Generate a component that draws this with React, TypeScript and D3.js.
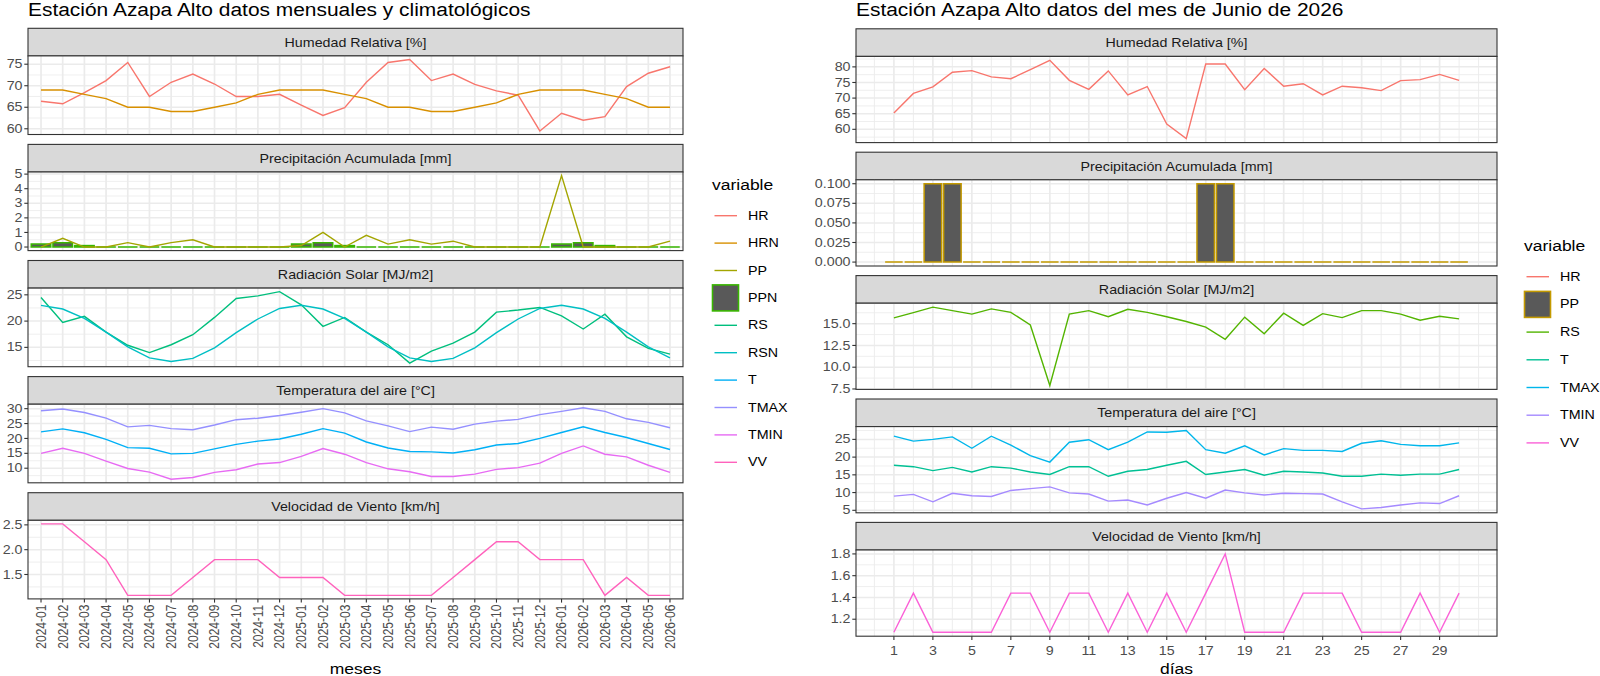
import * as d3 from 'd3';
import React from 'react';

// ---------- datos mensuales (grafico izquierdo) ----------
const months = [
  '2024-01', '2024-02', '2024-03', '2024-04', '2024-05', '2024-06', '2024-07', '2024-08', '2024-09', '2024-10',
  '2024-11', '2024-12', '2025-01', '2025-02', '2025-03', '2025-04', '2025-05', '2025-06', '2025-07', '2025-08',
  '2025-09', '2025-10', '2025-11', '2025-12', '2026-01', '2026-02', '2026-03', '2026-04', '2026-05', '2026-06',
];
const hrMes = [66.4, 65.8, 68.4, 71.2, 75.4, 67.5, 70.8, 72.7, 70.4, 67.5, 67.5, 68.0, 65.5, 63.1, 64.9,
  70.8, 75.4, 76.1, 71.2, 72.7, 70.3, 68.8, 67.8, 59.5, 63.6, 62.0, 62.8, 69.8, 72.9, 74.4];
const hrnMes = [69, 69, 68, 67, 65, 65, 64, 64, 65, 66, 68, 69, 69, 69, 68,
  67, 65, 65, 64, 64, 65, 66, 68, 69, 69, 69, 68, 67, 65, 65];
const ppMes = [0, 0.6, 0, 0, 0.3, 0, 0.3, 0.5, 0, 0, 0, 0, 0.1, 1.0, 0,
  0.8, 0.2, 0.5, 0.2, 0.4, 0, 0, 0, 0, 4.9, 0, 0, 0, 0, 0.4];
const ppnMes = [0.2, 0.3, 0.1, 0, 0, 0, 0, 0, 0, 0, 0, 0, 0.2, 0.3, 0.1,
  0, 0, 0, 0, 0, 0, 0, 0, 0, 0.2, 0.3, 0.1, 0, 0, 0];
const rsMes = [24.5, 19.75, 20.9, 17.9, 15.4, 14.0, 15.5, 17.4, 20.7, 24.3, 24.8, 25.6, 23.1, 19.0, 20.7,
  17.9, 15.5, 12.0, 14.3, 15.8, 17.9, 21.7, 22.1, 22.6, 21.0, 18.5, 21.3, 17.0, 14.8, 13.7];
const rsnMes = [23.0, 22.3, 20.5, 17.9, 15.1, 13.0, 12.3, 12.9, 14.9, 17.8, 20.4, 22.4, 23.0, 22.3, 20.5,
  17.9, 15.1, 13.0, 12.3, 12.9, 14.9, 17.8, 20.4, 22.4, 23.0, 22.3, 20.5, 17.9, 15.1, 13.0];
const tMes = [22.2, 23.2, 21.9, 19.7, 16.9, 16.7, 14.8, 15.0, 16.5, 18.0, 19.1, 19.8, 21.4, 23.3, 21.8,
  18.8, 16.8, 15.6, 15.5, 15.1, 16.2, 17.8, 18.3, 20.0, 22.0, 23.9, 22.0, 20.3, 18.3, 16.3];
const tmaxMes = [29.3, 29.9, 28.7, 26.8, 23.9, 24.4, 23.3, 22.9, 24.5, 26.3, 26.8, 27.7, 28.8, 30.0, 28.6,
  25.9, 24.2, 22.3, 23.8, 23.1, 24.8, 25.8, 26.4, 28.0, 29.1, 30.3, 29.1, 26.6, 25.4, 23.6];
const tminMes = [15.0, 16.7, 15.0, 12.4, 9.9, 8.7, 6.3, 6.9, 8.6, 9.5, 11.4, 11.9, 14.0, 16.6, 14.7,
  11.9, 9.8, 8.8, 7.2, 7.2, 8.0, 9.6, 10.2, 11.7, 15.0, 17.5, 14.7, 13.8, 11.0, 8.6];
const vvMes = [2.52, 2.52, 2.16, 1.8, 1.08, 1.08, 1.08, 1.44, 1.8, 1.8, 1.8, 1.44, 1.44, 1.44, 1.08,
  1.08, 1.08, 1.08, 1.08, 1.44, 1.8, 2.16, 2.16, 1.8, 1.8, 1.8, 1.08, 1.44, 1.08, 1.08];

// ---------- datos diarios junio 2026 (grafico derecho) ----------
const dias = [1, 2, 3, 4, 5, 6, 7, 8, 9, 10, 11, 12, 13, 14, 15, 16, 17, 18, 19, 20, 21, 22, 23, 24, 25, 26, 27, 28, 29, 30];
const hrDia = [65.2, 71.5, 73.6, 78.3, 78.8, 76.8, 76.2, 79.1, 82.1, 75.7, 72.8, 78.7, 71.0, 73.7, 61.7,
  57.0, 80.9, 80.9, 72.7, 79.5, 73.8, 74.6, 71.0, 73.8, 73.3, 72.4, 75.6, 75.9, 77.6, 75.7];
const ppDia = [0, 0, 0.1, 0.1, 0, 0, 0, 0, 0, 0, 0, 0, 0, 0, 0,
  0, 0.1, 0.1, 0, 0, 0, 0, 0, 0, 0, 0, 0, 0, 0, 0];
const rsDia = [15.67, 16.27, 16.9, 16.5, 16.1, 16.7, 16.3, 14.85, 7.9, 16.1, 16.5, 15.8, 16.65, 16.3, 15.8,
  15.25, 14.6, 13.2, 15.75, 13.85, 16.2, 14.8, 16.15, 15.7, 16.5, 16.5, 16.1, 15.4, 15.85, 15.55];
const tDia = [17.7, 17.3, 16.2, 17.1, 15.8, 17.3, 16.9, 15.8, 15.1, 17.3, 17.3, 14.6, 16.0, 16.5, 17.7,
  18.8, 15.1, 15.8, 16.5, 14.9, 16.0, 15.8, 15.5, 14.6, 14.6, 15.2, 14.9, 15.2, 15.2, 16.5];
const tmaxDia = [25.9, 24.5, 25.0, 25.7, 22.5, 25.9, 23.4, 20.4, 18.6, 24.2, 24.9, 22.1, 24.2, 27.1, 27.0,
  27.5, 22.1, 21.1, 23.2, 20.6, 22.4, 21.9, 21.9, 21.6, 23.9, 24.6, 23.6, 23.2, 23.2, 24.0];
const tminDia = [9.0, 9.5, 7.4, 9.8, 9.1, 8.9, 10.6, 11.1, 11.6, 9.9, 9.6, 7.6, 7.9, 6.5, 8.4,
  10.0, 8.4, 10.7, 9.9, 9.3, 9.8, 9.7, 9.6, 7.4, 5.4, 5.8, 6.5, 7.1, 6.9, 9.1];
const vvDia = [1.08, 1.44, 1.08, 1.08, 1.08, 1.08, 1.44, 1.44, 1.08, 1.44, 1.44, 1.08, 1.44, 1.08, 1.44,
  1.08, 1.44, 1.8, 1.08, 1.08, 1.08, 1.44, 1.44, 1.44, 1.08, 1.08, 1.08, 1.44, 1.08, 1.44];

// ---------- ticks ----------
const hrTicksL = [60, 65, 70, 75];
const ppTicksL = [0, 1, 2, 3, 4, 5];
const rsTicksL = [15, 20, 25];
const tTicksL = [10, 15, 20, 25, 30];
const vvTicksL = [1.5, 2.0, 2.5];
const vvLabelsL = ['1.5', '2.0', '2.5'];
const hrTicksR = [60, 65, 70, 75, 80];
const ppTicksR = [0, 0.025, 0.05, 0.075, 0.1];
const ppLabelsR = ['0.000', '0.025', '0.050', '0.075', '0.100'];
const rsTicksR = [7.5, 10, 12.5, 15];
const rsLabelsR = ['7.5', '10.0', '12.5', '15.0'];
const tTicksR = [5, 10, 15, 20, 25];
const vvTicksR = [1.2, 1.4, 1.6, 1.8];
const vvLabelsR = ['1.2', '1.4', '1.6', '1.8'];
const diaTicks = [1, 3, 5, 7, 9, 11, 13, 15, 17, 19, 21, 23, 25, 27, 29];

const colL = {
  HR: '#F8766D', HRN: '#D89000', PP: '#A3A500', PPN: '#39B600', RS: '#00BF7D',
  RSN: '#00BFC4', T: '#00B0F6', TMAX: '#9590FF', TMIN: '#E76BF3', VV: '#FF62BC',
};
const colR = {
  HR: '#F8766D', PP: '#C49A00', RS: '#53B400', T: '#00C094', TMAX: '#00B6EB', TMIN: '#A58AFF', VV: '#FB61D7',
};

const SX = 1.19; // the reference text is a little wider than plain Arial
const FONT = '"Liberation Sans", Arial, Helvetica, sans-serif';

const Txt = ({ x, y, size, anchor = 'start', fill = '#1A1A1A', rot = 0, base = 'auto', children }: any) => (
  <text
    transform={`translate(${x},${y}) scale(${SX},1)` + (rot ? ` rotate(${rot})` : '')}
    fontSize={size}
    textAnchor={anchor}
    fill={fill}
    dominantBaseline={base}
  >
    {children}
  </text>
);

const expandDomain = (vals: number[]): [number, number] => {
  const lo = d3.min(vals) as number;
  const hi = d3.max(vals) as number;
  const pad = (hi - lo) * 0.05;
  return [lo - pad, hi + pad];
};

// ggplot-style minor breaks: midpoints plus one extra step each side
const minorBreaks = (major: number[], dom: number[]) => {
  const step = major[1] - major[0];
  const ext = [major[0] - step, ...major, major[major.length - 1] + step];
  const out: number[] = [ext[0], ext[ext.length - 1]];
  for (let i = 0; i < ext.length - 1; i++) out.push((ext[i] + ext[i + 1]) / 2);
  return out.filter((v) => v > dom[0] && v < dom[1] && !major.includes(v));
};

const STRIP_H = 27.6;

const Panel = ({ title, top, panelH, x0, x1, xPos, xMajor, xMinor, yTicks, yLabels, lines, bars, barW }: any) => {
  const pTop = top + STRIP_H;
  const pBot = pTop + panelH;
  const vals = lines.flatMap((s: any) => s.values).concat(bars ? [0, ...bars.values] : []);
  const y = d3.scaleLinear().domain(expandDomain(vals)).range([pBot, pTop]);
  const minor = minorBreaks(yTicks, y.domain());
  const line = d3.line<number>().x((_, i) => xPos(i)).y((v) => y(v));
  const labels = yLabels || yTicks.map((v: number) => String(v));

  return (
    <g>
      <rect x={x0} y={top} width={x1 - x0} height={STRIP_H} fill="#D9D9D9" stroke="#333333" strokeWidth={1.1} />
      <Txt x={(x0 + x1) / 2} y={top + STRIP_H / 2 + 0.5} size={12} anchor="middle" base="central">{title}</Txt>
      <rect x={x0} y={pTop} width={x1 - x0} height={panelH} fill="#FFFFFF" />
      {minor.map((v) => (
        <line key={'ym' + v} x1={x0} x2={x1} y1={y(v)} y2={y(v)} stroke="#EBEBEB" strokeWidth={0.8} />
      ))}
      {xMinor.map((px: number, i: number) => (
        <line key={'xm' + i} x1={px} x2={px} y1={pTop} y2={pBot} stroke="#EBEBEB" strokeWidth={0.9} />
      ))}
      {yTicks.map((v: number) => (
        <line key={'yM' + v} x1={x0} x2={x1} y1={y(v)} y2={y(v)} stroke="#EBEBEB" strokeWidth={1.5} />
      ))}
      {xMajor.map((px: number, i: number) => (
        <line key={'xM' + i} x1={px} x2={px} y1={pTop} y2={pBot} stroke="#EBEBEB" strokeWidth={1.7} />
      ))}
      {bars &&
        bars.values.map((v: number, i: number) => {
          const cx = xPos(i);
          const yb = y(0);
          const yt = y(v);
          return (
            <path
              key={'b' + i}
              d={`M${cx - barW / 2},${yb}V${yt}H${cx + barW / 2}V${yb}Z`}
              fill="#595959"
              stroke={bars.color}
              strokeWidth={1.5}
            />
          );
        })}
      {lines.map((s: any) => (
        <path key={s.name} d={line(s.values) || ''} fill="none" stroke={s.color} strokeWidth={1.4} />
      ))}
      <rect x={x0} y={pTop} width={x1 - x0} height={panelH} fill="none" stroke="#333333" strokeWidth={1.1} />
      {yTicks.map((v: number, i: number) => (
        <g key={'yt' + v}>
          <line x1={x0 - 3.7} x2={x0} y1={y(v)} y2={y(v)} stroke="#333333" strokeWidth={1.1} />
          <Txt x={x0 - 5.5} y={y(v)} size={12} anchor="end" base="central" fill="#4D4D4D">{labels[i]}</Txt>
        </g>
      ))}
    </g>
  );
};

const Legend = ({ x, titleY, itemY, step, items }: any) => (
  <g>
    <Txt x={x} y={titleY} size={14.7} base="central" fill="#000000">variable</Txt>
    {items.map((it: any, k: number) => {
      const cy = itemY + k * step;
      return (
        <g key={it.name}>
          {it.box ? (
            <rect x={x + 0.5} y={cy - 13} width={26} height={26} fill="#595959" stroke={it.color} strokeWidth={1.6} />
          ) : (
            <line x1={x + 2.5} x2={x + 25} y1={cy} y2={cy} stroke={it.color} strokeWidth={1.4} />
          )}
          <Txt x={x + 36} y={cy} size={12} base="central" fill="#000000">{it.name}</Txt>
        </g>
      );
    })}
  </g>
);

const App = () => {
  // ----- left chart layout -----
  const L0 = 28;
  const L1 = 683;
  const LTOP = 28.3;
  const LSTEP = 116.1;
  const LPH = 78.6;
  const xm = d3.scalePoint<string>().domain(months).range([L0, L1]).padding(0.6);
  const xPosL = (i: number) => xm(months[i]) as number;
  const monthPx = months.map((m) => xm(m) as number);
  const barWL = xm.step() * 0.9;

  // ----- right chart layout -----
  const R0 = 856;
  const R1 = 1497;
  const RTOP = 28.8;
  const RSTEP = 123.4;
  const RPH = 86.2;
  const dLo = (d3.min(dias) as number) - 0.45;
  const dHi = (d3.max(dias) as number) + 0.45;
  const dPad = (dHi - dLo) * 0.05;
  const xd = d3.scaleLinear().domain([dLo - dPad, dHi + dPad]).range([R0, R1]);
  const xPosR = (i: number) => xd(dias[i]);
  const dayMajorPx = diaTicks.map((d) => xd(d));
  const dayMinorPx = minorBreaks(diaTicks, xd.domain()).map((d) => xd(d));
  const barWR = (xd(1) - xd(0)) * 0.9;

  const leftPanels = [
    { title: 'Humedad Relativa [%]', yTicks: hrTicksL,
      lines: [{ name: 'HR', values: hrMes, color: colL.HR }, { name: 'HRN', values: hrnMes, color: colL.HRN }] },
    { title: 'Precipitación Acumulada [mm]', yTicks: ppTicksL,
      lines: [{ name: 'PP', values: ppMes, color: colL.PP }], bars: { values: ppnMes, color: colL.PPN } },
    { title: 'Radiación Solar [MJ/m2]', yTicks: rsTicksL,
      lines: [{ name: 'RS', values: rsMes, color: colL.RS }, { name: 'RSN', values: rsnMes, color: colL.RSN }] },
    { title: 'Temperatura del aire [°C]', yTicks: tTicksL,
      lines: [
        { name: 'T', values: tMes, color: colL.T },
        { name: 'TMAX', values: tmaxMes, color: colL.TMAX },
        { name: 'TMIN', values: tminMes, color: colL.TMIN },
      ] },
    { title: 'Velocidad de Viento [km/h]', yTicks: vvTicksL, yLabels: vvLabelsL,
      lines: [{ name: 'VV', values: vvMes, color: colL.VV }] },
  ];

  const rightPanels = [
    { title: 'Humedad Relativa [%]', yTicks: hrTicksR, lines: [{ name: 'HR', values: hrDia, color: colR.HR }] },
    { title: 'Precipitación Acumulada [mm]', yTicks: ppTicksR, yLabels: ppLabelsR,
      lines: [], bars: { values: ppDia, color: colR.PP } },
    { title: 'Radiación Solar [MJ/m2]', yTicks: rsTicksR, yLabels: rsLabelsR,
      lines: [{ name: 'RS', values: rsDia, color: colR.RS }] },
    { title: 'Temperatura del aire [°C]', yTicks: tTicksR,
      lines: [
        { name: 'T', values: tDia, color: colR.T },
        { name: 'TMAX', values: tmaxDia, color: colR.TMAX },
        { name: 'TMIN', values: tminDia, color: colR.TMIN },
      ] },
    { title: 'Velocidad de Viento [km/h]', yTicks: vvTicksR, yLabels: vvLabelsR,
      lines: [{ name: 'VV', values: vvDia, color: colR.VV }] },
  ];

  const lBottom = LTOP + 4 * LSTEP + STRIP_H + LPH;
  const rBottom = RTOP + 4 * RSTEP + STRIP_H + RPH;

  const legendL = ['HR', 'HRN', 'PP', 'PPN', 'RS', 'RSN', 'T', 'TMAX', 'TMIN', 'VV'].map((n) => ({
    name: n, color: (colL as any)[n], box: n === 'PPN',
  }));
  const legendR = ['HR', 'PP', 'RS', 'T', 'TMAX', 'TMIN', 'VV'].map((n) => ({
    name: n, color: (colR as any)[n], box: n === 'PP',
  }));

  return (
    <svg
      width={1600}
      height={676}
      style={{ position: 'absolute', left: 0, top: 0, background: '#FFFFFF' }}
      fontFamily={FONT}
    >
      <rect x={0} y={0} width={1600} height={676} fill="#FFFFFF" />

      {/* left chart */}
      <Txt x={L0} y={16} size={17.6} fill="#000000">Estación Azapa Alto datos mensuales y climatológicos</Txt>
      {leftPanels.map((p, k) => (
        <Panel
          key={'L' + k}
          {...p}
          top={LTOP + k * LSTEP}
          panelH={LPH}
          x0={L0}
          x1={L1}
          xPos={xPosL}
          xMajor={monthPx}
          xMinor={[]}
          barW={barWL}
        />
      ))}
      {months.map((m, i) => (
        <g key={'mx' + m}>
          <line x1={monthPx[i]} x2={monthPx[i]} y1={lBottom} y2={lBottom + 3.7} stroke="#333333" strokeWidth={1.1} />
          <Txt x={monthPx[i]} y={lBottom + 5.8} size={12} anchor="end" base="central" rot={-90} fill="#4D4D4D">{m}</Txt>
        </g>
      ))}
      <Txt x={(L0 + L1) / 2} y={674} size={14.7} anchor="middle" fill="#000000">meses</Txt>
      <Legend x={712} titleY={185} itemY={215.7} step={27.4} items={legendL} />

      {/* right chart */}
      <Txt x={R0} y={16} size={17.6} fill="#000000">Estación Azapa Alto datos del mes de Junio de 2026</Txt>
      {rightPanels.map((p, k) => (
        <Panel
          key={'R' + k}
          {...p}
          top={RTOP + k * RSTEP}
          panelH={RPH}
          x0={R0}
          x1={R1}
          xPos={xPosR}
          xMajor={dayMajorPx}
          xMinor={dayMinorPx}
          barW={barWR}
        />
      ))}
      {diaTicks.map((d, i) => (
        <g key={'dx' + d}>
          <line x1={dayMajorPx[i]} x2={dayMajorPx[i]} y1={rBottom} y2={rBottom + 3.7} stroke="#333333" strokeWidth={1.1} />
          <Txt x={dayMajorPx[i]} y={rBottom + 19} size={12} anchor="middle" fill="#4D4D4D">{d}</Txt>
        </g>
      ))}
      <Txt x={(R0 + R1) / 2} y={674} size={14.7} anchor="middle" fill="#000000">días</Txt>
      <Legend x={1524} titleY={245.7} itemY={276.7} step={27.7} items={legendR} />
    </svg>
  );
};

export default App;
